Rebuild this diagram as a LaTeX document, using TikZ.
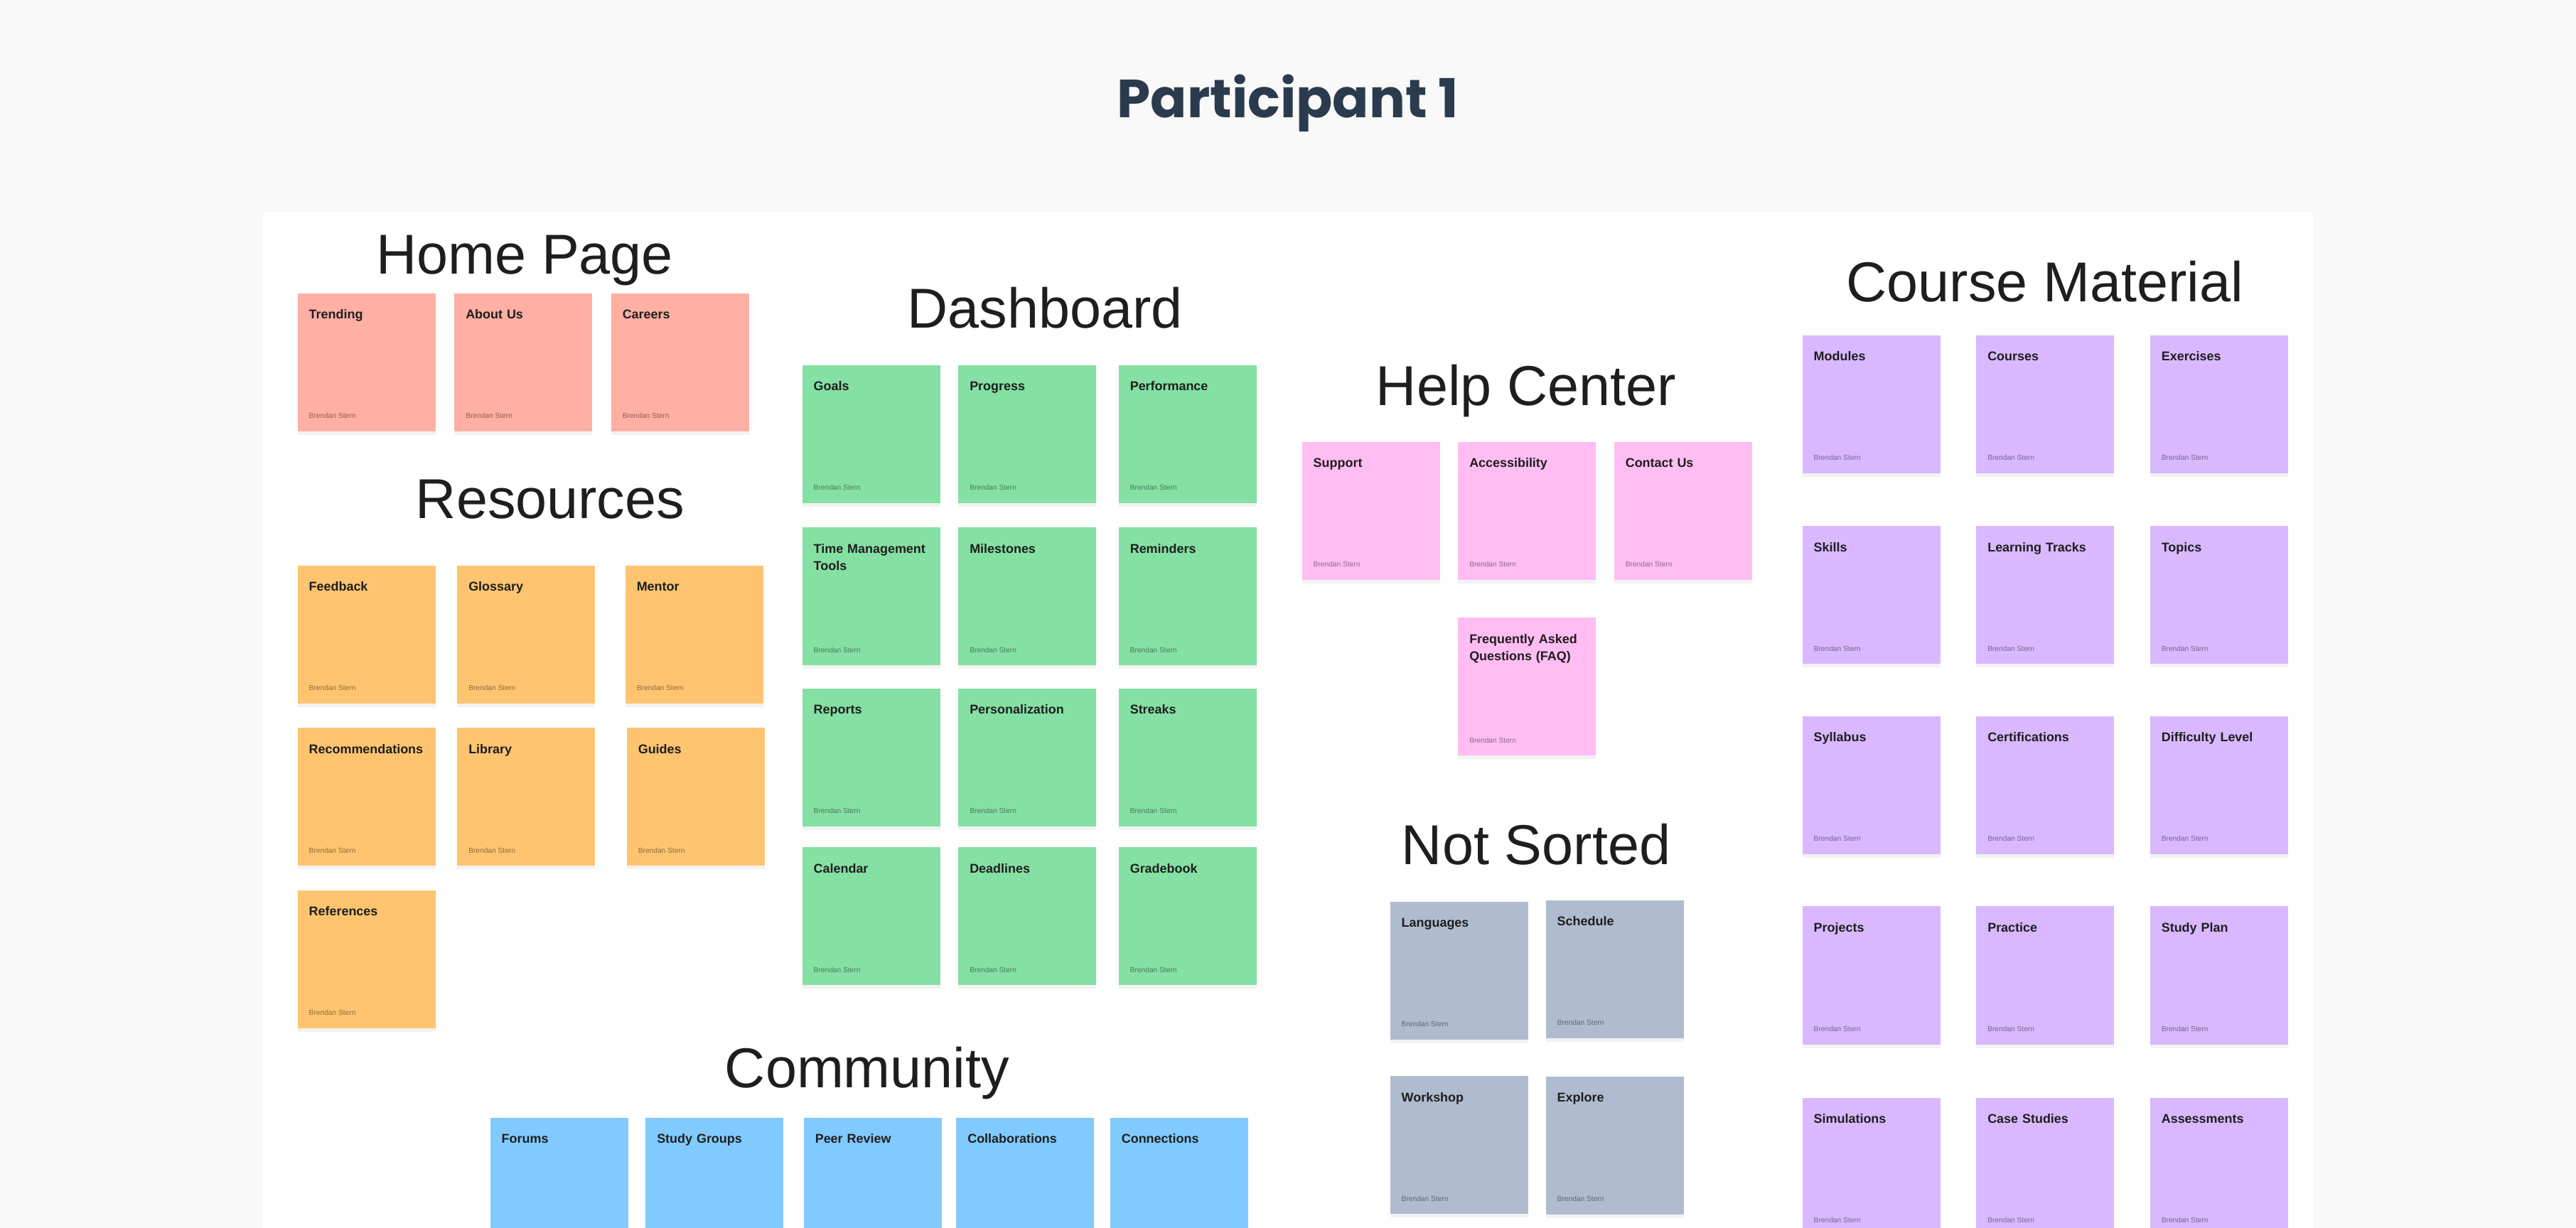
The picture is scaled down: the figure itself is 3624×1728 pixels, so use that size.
\documentclass[tikz,border=0pt]{standalone}
\usepackage{fontspec}
\setmainfont{Liberation Sans}
\newfontfamily\poppinsfont{Poppins}
\usetikzlibrary{positioning,shadows}

\definecolor{canvasgray}{HTML}{F9F9F9}
\definecolor{titleslate}{HTML}{2B3B4E}
\definecolor{headingblack}{HTML}{1E1E1E}
\definecolor{homered}{HTML}{FFAFA3}
\definecolor{resorange}{HTML}{FFC470}
\definecolor{dashgreen}{HTML}{85E0A3}
\definecolor{commblue}{HTML}{80CAFF}
\definecolor{helppink}{HTML}{FFBDF2}
\definecolor{sortgray}{HTML}{AFBCCF}
\definecolor{coursepurple}{HTML}{D9B8FF}

\tikzstyle{boardtitle} = [anchor=base, inner sep=0pt, text=titleslate, font=\poppinsfont\bfseries\fontsize{21.5}{25}\selectfont]
\tikzstyle{heading} = [anchor=base, inner sep=0pt, text=headingblack, font=\fontsize{22.5}{27}\selectfont]
\tikzstyle{notetitle} = [anchor=north west, xshift=0.16cm, yshift=-0.23cm, inner sep=0pt, text width=1.62cm, align=left, text=headingblack, font=\fontsize{5.1}{7}\selectfont\bfseries]
\tikzstyle{noteauthor} = [anchor=south west, xshift=0.16cm, yshift=0.18cm, inner sep=0pt, text=black, text opacity=0.45, font=\fontsize{2.9}{3.5}\selectfont]
\tikzset{cutnote/.style={rectangle, minimum width=1.94cm, minimum height=1.94cm, inner sep=0pt, anchor=north west,
    drop shadow={shadow xshift=0pt, shadow yshift=-0.05cm, opacity=0.10},
    label={[notetitle]north west:#1}},
  note/.style={cutnote=#1, label={[noteauthor]south west:Brendan Stern}}}

\begin{document}
\begin{tikzpicture}[x=0.01cm, y=-0.01cm] % one unit = one pixel of the board

% Board and white panel
\useasboundingbox (0,0) rectangle (3624,1728);
\clip (0,0) rectangle (3624,1728);
\fill[canvasgray] (0,0) rectangle (3624,1728);
\fill[white] (370,298) rectangle (3254,1760);

\node(title)        [boardtitle] at (1812,166) {Participant 1};

% Home Page
\node(homehead)     [heading] at (738,386) {Home Page};
\node(trending)     [note=Trending, fill=homered] at (418,412) {};
\node(aboutus)      [note=About Us, fill=homered, right=0.25cm of trending] {};
\node(careers)      [note=Careers,  fill=homered, right=0.25cm of aboutus]  {};

% Resources
\node(reshead)      [heading] at (774,730) {Resources};
\node(feedback)     [note=Feedback, fill=resorange] at (418,795) {};
\node(glossary)     [note=Glossary, fill=resorange, right=0.29cm of feedback] {};
\node(mentor)       [note=Mentor,   fill=resorange, right=0.41cm of glossary] {};
\node(recommend)    [note=Recommendations, fill=resorange, below=0.33cm of feedback] {};
\node(library)      [note=Library,  fill=resorange, right=0.29cm of recommend] {};
\node(guides)       [note=Guides,   fill=resorange, right=0.43cm of library] {};
\node(references)   [note=References, fill=resorange, below=0.33cm of recommend] {};

% Dashboard
\node(dashhead)     [heading] at (1470,462) {Dashboard};
\node(goals)        [note=Goals,       fill=dashgreen] at (1128,513) {};
\node(progress)     [note=Progress,    fill=dashgreen, right=0.24cm of goals] {};
\node(performance)  [note=Performance, fill=dashgreen, right=0.30cm of progress] {};
\node(timetools)    [note=Time Management Tools, fill=dashgreen, below=0.33cm of goals] {};
\node(milestones)   [note=Milestones,  fill=dashgreen, right=0.24cm of timetools] {};
\node(reminders)    [note=Reminders,   fill=dashgreen, right=0.30cm of milestones] {};
\node(reports)      [note=Reports,     fill=dashgreen, below=0.31cm of timetools] {};
\node(personal)     [note=Personalization, fill=dashgreen, right=0.24cm of reports] {};
\node(streaks)      [note=Streaks,     fill=dashgreen, right=0.30cm of personal] {};
\node(calendar)     [note=Calendar,    fill=dashgreen, below=0.28cm of reports] {};
\node(deadlines)    [note=Deadlines,   fill=dashgreen, right=0.24cm of calendar] {};
\node(gradebook)    [note=Gradebook,   fill=dashgreen, right=0.30cm of deadlines] {};

% Community (cut by the lower edge)
\node(commhead)     [heading] at (1220,1530) {Community};
\node(forums)       [cutnote=Forums,         fill=commblue] at (689,1572) {};
\node(studygroups)  [cutnote=Study Groups,   fill=commblue, right=0.23cm of forums] {};
\node(peerreview)   [cutnote=Peer Review,    fill=commblue, right=0.27cm of studygroups] {};
\node(collab)       [cutnote=Collaborations, fill=commblue, right=0.19cm of peerreview] {};
\node(connections)  [cutnote=Connections,    fill=commblue, right=0.21cm of collab] {};

% Help Center
\node(helphead)     [heading] at (2147,571) {Help Center};
\node(support)      [note=Support,       fill=helppink] at (1831,621) {};
\node(access)       [note=Accessibility, fill=helppink, right=0.24cm of support] {};
\node(contact)      [note=Contact Us,    fill=helppink, right=0.24cm of access] {};
\node(faq)          [note=Frequently Asked Questions (FAQ), fill=helppink, below=0.52cm of access] {};

% Not Sorted
\node(sorthead)     [heading] at (2161,1216) {Not Sorted};
\node(languages)    [note=Languages, fill=sortgray] at (1955,1268) {};
\node(schedule)     [note=Schedule,  fill=sortgray] at (2174,1266) {};
\node(workshop)     [note=Workshop,  fill=sortgray, below=0.50cm of languages] {};
\node(explore)      [note=Explore,   fill=sortgray] at (2174,1514) {};

% Course Material
\node(coursehead)   [heading] at (2877,425) {Course Material};
\node(modules)      [note=Modules,   fill=coursepurple] at (2535,471) {};
\node(courses)      [note=Courses,   fill=coursepurple, right=0.49cm of modules] {};
\node(exercises)    [note=Exercises, fill=coursepurple, right=0.49cm of courses] {};
\node(skills)       [note=Skills,    fill=coursepurple, below=0.73cm of modules] {};
\node(tracks)       [note=Learning Tracks, fill=coursepurple, right=0.49cm of skills] {};
\node(topics)       [note=Topics,    fill=coursepurple, right=0.49cm of tracks] {};
\node(syllabus)     [note=Syllabus,  fill=coursepurple, below=0.72cm of skills] {};
\node(certs)        [note=Certifications, fill=coursepurple, right=0.49cm of syllabus] {};
\node(difficulty)   [note=Difficulty Level, fill=coursepurple, right=0.49cm of certs] {};
\node(projects)     [note=Projects,  fill=coursepurple, below=0.72cm of syllabus] {};
\node(practice)     [note=Practice,  fill=coursepurple, right=0.49cm of projects] {};
\node(studyplan)    [note=Study Plan, fill=coursepurple, right=0.49cm of practice] {};
\node(simulations)  [note=Simulations, fill=coursepurple, below=0.74cm of projects] {};
\node(casestudies)  [note=Case Studies, fill=coursepurple, right=0.49cm of simulations] {};
\node(assessments)  [note=Assessments, fill=coursepurple, right=0.49cm of casestudies] {};

\end{tikzpicture}
\end{document}
